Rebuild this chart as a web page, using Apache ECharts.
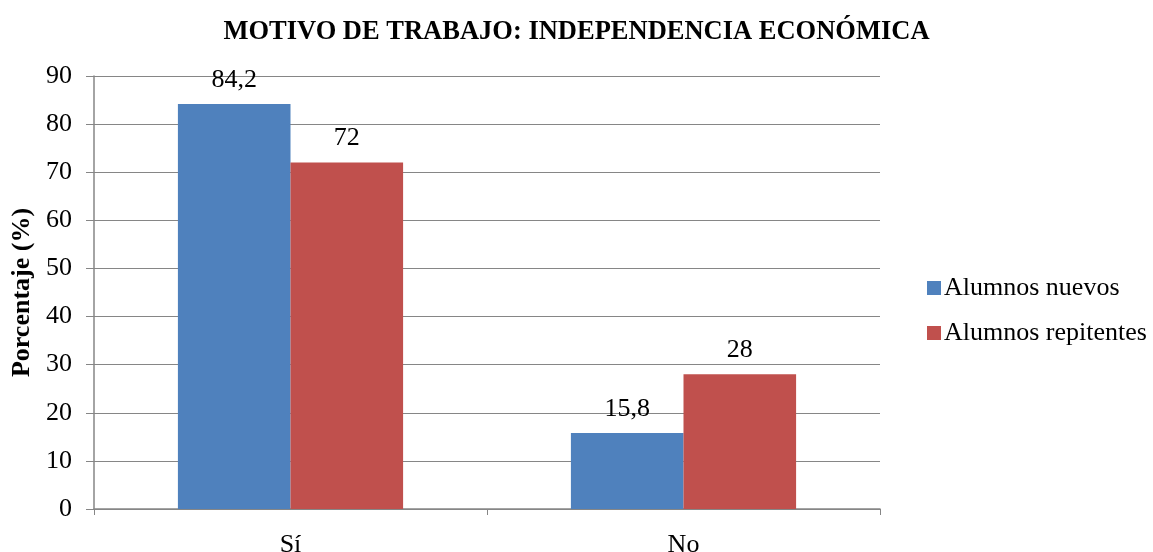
<!DOCTYPE html>
<html><head><meta charset="utf-8">
<script src="https://cdn.jsdelivr.net/npm/echarts@6/dist/echarts.min.js"></script>
<style>html,body{margin:0;padding:0;background:#fff}#c{width:1153px;height:552px}</style>
</head><body><div id="c"></div>
<script>
const categories = ['Sí', 'No'];
const nuevos = [84.2, 15.8];
const repitentes = [72, 28];
const seriesNames = ['Alumnos nuevos', 'Alumnos repitentes'];
const F = 'Liberation Serif, Times New Roman, serif';
const chart = echarts.init(document.getElementById('c'));
const lbl = {show: true, position: 'top', distance: 11, color: '#000', fontFamily: F, fontSize: 26,
  formatter: p => String(p.value).replace('.', ',')};
chart.setOption({
  animation: false,
  title: {text: 'MOTIVO DE TRABAJO: INDEPENDENCIA ECONÓMICA', left: 'center', top: 14,
    textStyle: {fontFamily: F, fontWeight: 'bold', fontSize: 26.5, color: '#000'}},
  legend: {orient: 'vertical', left: 922, top: 270, itemWidth: 14, itemHeight: 14, itemGap: 19,
    icon: 'rect', textStyle: {fontFamily: F, fontSize: 26, color: '#000', padding: [0,0,0,-2]}},
  grid: {left: 94, top: 76, width: 786, height: 433, containLabel: false, outerBoundsMode: 'none'},
  xAxis: {type: 'category', data: categories,
    axisLine: {lineStyle: {color: '#868686', width: 1.5}},
    axisTick: {show: true, length: 6, alignWithLabel: false, lineStyle: {color: '#868686'}},
    axisLabel: {color: '#000', fontFamily: F, fontSize: 26, margin: 23}},
  yAxis: {type: 'value', min: 0, max: 90, interval: 10,
    name: 'Porcentaje (%)', nameLocation: 'middle', nameGap: 57, nameRotate: 90,
    nameTextStyle: {fontFamily: F, fontWeight: 'bold', fontSize: 26, color: '#000'},
    axisLine: {show: true, lineStyle: {color: '#868686', width: 1.5}},
    axisTick: {show: true, length: 8, lineStyle: {color: '#868686'}},
    axisLabel: {color: '#000', fontFamily: F, fontSize: 26, margin: 22},
    splitLine: {lineStyle: {color: '#868686', width: 1}}},
  series: [
    {name: seriesNames[0], type: 'bar', data: nuevos, barGap: '0%', barCategoryGap: '42.7%',
      itemStyle: {color: '#4F81BD'}, label: lbl},
    {name: seriesNames[1], type: 'bar', data: repitentes,
      itemStyle: {color: '#C0504D'}, label: lbl}
  ]
});
</script></body></html>
